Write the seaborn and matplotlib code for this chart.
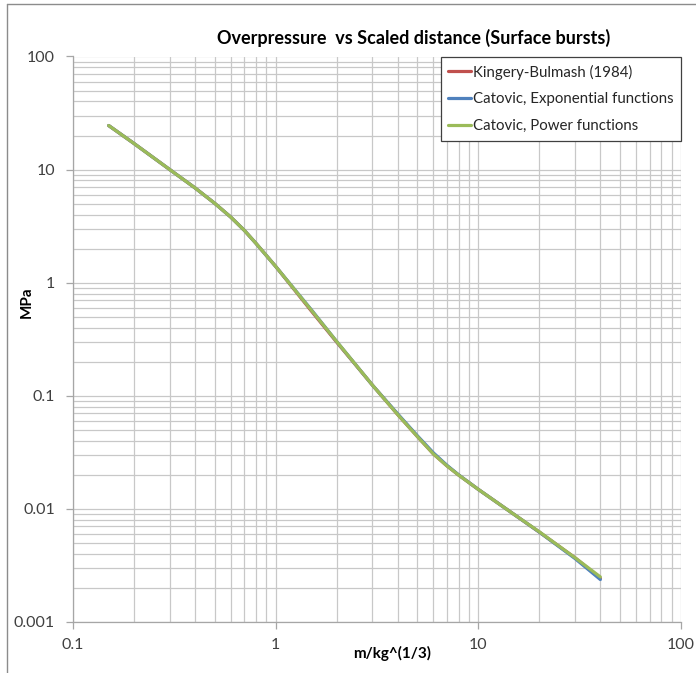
import numpy as np
import pandas as pd
import matplotlib
matplotlib.use("Agg")
import matplotlib.pyplot as plt
from matplotlib.lines import Line2D
from matplotlib.ticker import LogLocator, FixedLocator, NullFormatter
import seaborn as sns

# scaled distance Z (m/kg^(1/3)) and overpressure (MPa)
z = [0.15, 0.2, 0.3, 0.4, 0.5, 0.6, 0.7, 0.8, 1.0, 1.5, 2.0, 3.0, 4.0, 5.0, 6.0, 7.0, 8.0,
     10.0, 15.0, 20.0, 30.0, 40.0]
p_kb = [24.5, 17.0, 10.0, 6.88, 5.03, 3.8, 2.9, 2.22, 1.39, 0.56, 0.297, 0.124, 0.068, 0.0435,
        0.0305, 0.0239, 0.0198, 0.0148, 0.0089, 0.0062, 0.00368, 0.00242]
p_exp = [24.5, 17.0, 10.0, 6.88, 5.03, 3.8, 2.9, 2.22, 1.39, 0.575, 0.301, 0.124, 0.069, 0.0442,
         0.0312, 0.0242, 0.0199, 0.0148, 0.0089, 0.0062, 0.00362, 0.00236]
p_pow = [24.5, 17.0, 10.0, 6.88, 5.03, 3.8, 2.9, 2.22, 1.39, 0.57, 0.301, 0.124, 0.068, 0.0435,
         0.0305, 0.0239, 0.0198, 0.0148, 0.0089, 0.00624, 0.00368, 0.00249]

labels = ["Kingery-Bulmash (1984)", "Catovic, Exponential functions", "Catovic, Power functions"]
colors = ["#C0504D", "#4F81BD", "#9BBB59"]

sns.set_style("white")
plt.rcParams["font.family"] = ["Lato", "DejaVu Sans"]

fig = plt.figure(figsize=(6.96, 6.73), dpi=100)
ax = fig.add_axes([73 / 696, 1 - 621.7 / 673, (681 - 73) / 696, (621.7 - 56.5) / 673])

for ys, lab, c in zip([p_kb, p_exp, p_pow], labels, colors):
    sns.lineplot(x=z, y=ys, ax=ax, color=c, linewidth=2.3, label=lab)

ax.set_xscale("log")
ax.set_yscale("log")
ax.set_xlim(0.1, 100)
ax.set_ylim(0.001, 100)

ax.xaxis.set_major_locator(FixedLocator([0.1, 1, 10, 100]))
ax.yaxis.set_major_locator(FixedLocator([0.001, 0.01, 0.1, 1, 10, 100]))
ax.set_xticklabels(["0.1", "1", "10", "100"])
ax.set_yticklabels(["0.001", "0.01", "0.1", "1", "10", "100"])
ax.xaxis.set_minor_locator(LogLocator(base=10, subs=np.arange(2, 10), numticks=20))
ax.yaxis.set_minor_locator(LogLocator(base=10, subs=np.arange(2, 10), numticks=20))
ax.xaxis.set_minor_formatter(NullFormatter())
ax.yaxis.set_minor_formatter(NullFormatter())

ax.grid(True, which="both", color="#C8C8C8", linewidth=0.9)
ax.set_axisbelow(True)
ax.tick_params(which="major", direction="out", length=5, width=0.9, color="#A6A6A6",
               labelsize=11.5, labelcolor="#404040", left=True, bottom=True)
ax.tick_params(axis="y", which="major", pad=8)
ax.tick_params(axis="x", which="major", pad=7)
ax.tick_params(which="minor", length=0)
for s in ["top", "right"]:
    ax.spines[s].set_visible(False)
for s in ["left", "bottom"]:
    ax.spines[s].set_color("#A6A6A6")
    ax.spines[s].set_linewidth(0.9)

leg = ax.legend(loc="upper right", bbox_to_anchor=(681 / 696, 1 - 57 / 673),
                bbox_transform=fig.transFigure, frameon=True, fancybox=False,
                fontsize=10.8, handlelength=1.5, handletextpad=0.15, borderaxespad=0,
                labelspacing=0.85, borderpad=0.5)
leg.get_frame().set_edgecolor("#404040")
leg.get_frame().set_linewidth(0.9)
leg.get_frame().set_facecolor("white")
leg.get_frame().set_alpha(1)

fig.text(414 / 696, 1 - 38 / 673, "Overpressure  vs Scaled distance (Surface bursts)",
         ha="center", va="center", fontsize=13, fontweight="bold", color="black")
fig.text(392 / 696, 1 - 653 / 673, "m/kg^(1/3)", ha="center", va="center",
         fontsize=11, fontweight="bold", color="black")
fig.text(27 / 696, 1 - 302 / 673, "MPa", ha="center", va="center", rotation=90,
         fontsize=11, fontweight="bold", color="black")

# outer chart border (left and top edges visible in the reference)
fig.add_artist(Line2D([7 / 696, 7 / 696], [0, 1 - 4 / 673], transform=fig.transFigure,
                      color="#8C8C8C", linewidth=1))
fig.add_artist(Line2D([7 / 696, 1], [1 - 4 / 673, 1 - 4 / 673], transform=fig.transFigure,
                      color="#8C8C8C", linewidth=1))

fig.savefig("out.png", dpi=100)
